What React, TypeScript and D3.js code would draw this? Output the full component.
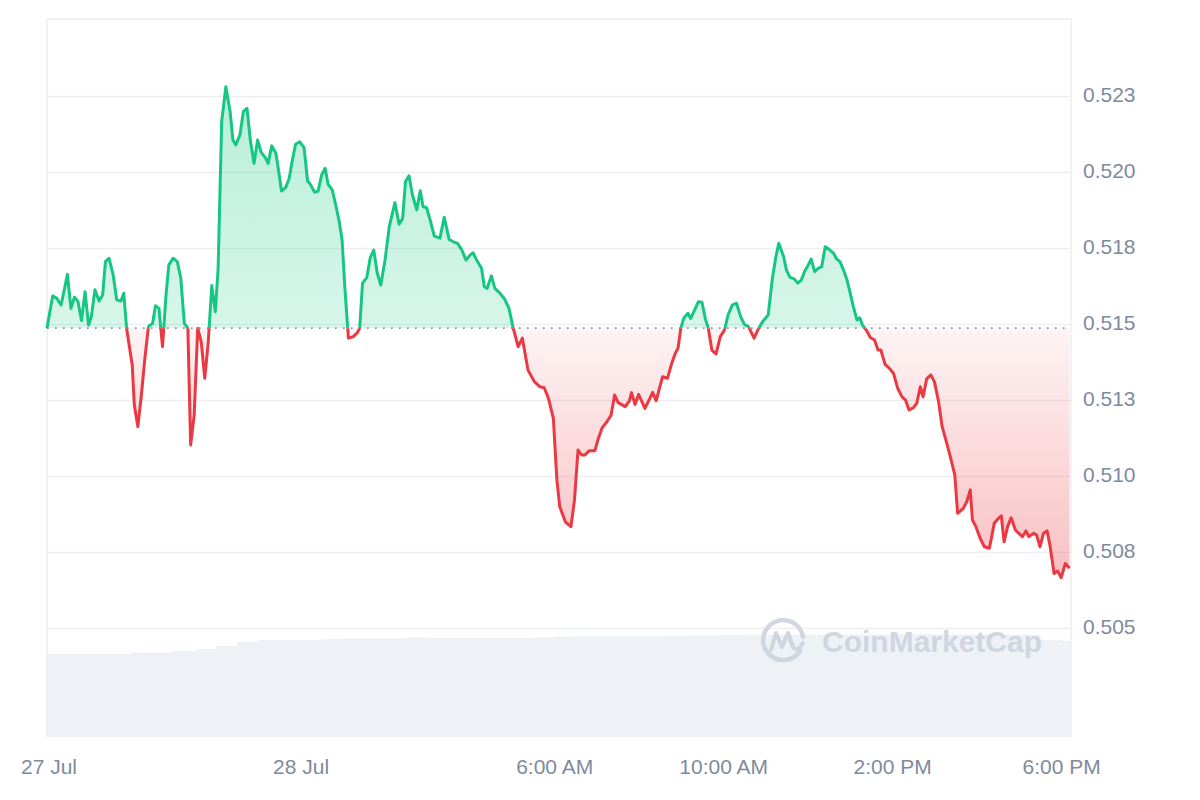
import * as d3 from "d3";

// minutes after the window opens (27 Jul 18:02) for each price sample
const minutesFromOpen = [
    0, 8, 14, 20, 25, 29, 34, 39, 44, 49,
    54, 59, 63, 68, 74, 79, 83, 88, 94, 99,
    105, 109, 113, 121, 124, 129, 134, 139, 144, 150,
    154, 159, 164, 169, 173, 179, 185, 190, 195, 200,
    204, 209, 214, 219, 224, 229, 234, 239, 243, 248,
    254, 260, 264, 268, 274, 279, 284, 289, 294, 299,
    304, 310, 314, 319, 325, 329, 333, 339, 344, 348,
    353, 359, 365, 370, 374, 380, 385, 390, 395, 399,
    405, 410, 415, 419, 423, 428, 435, 441, 444, 448,
    454, 459, 464, 469, 474, 480, 486, 494, 500, 505,
    509, 514, 519, 525, 530, 534, 539, 544, 550, 558,
    564, 571, 577, 583, 589, 595, 601, 605, 610, 617,
    621, 625, 631, 636, 643, 650, 656, 662, 669, 675,
    683, 692, 700, 706, 712, 719, 724, 728, 736, 744,
    749, 754, 759, 764, 770, 778, 783, 788, 795, 801,
    806, 811, 821, 827, 830, 835, 840, 849, 856, 860,
    865, 869, 874, 881, 887, 892, 896, 900, 904, 910,
    914, 920, 925, 930, 935, 939, 944, 950, 956, 962,
    967, 973, 979, 985, 990, 996, 1004, 1010, 1016, 1024,
    1030, 1035, 1039, 1046, 1050, 1055, 1061, 1066, 1071, 1076,
    1081, 1085, 1090, 1095, 1100, 1105, 1110, 1117, 1121, 1126,
    1131, 1136, 1140, 1145, 1150, 1154, 1158, 1164, 1169, 1175,
    1180, 1184, 1190, 1196, 1202, 1208, 1214, 1219, 1224, 1230,
    1235, 1240, 1244, 1249, 1255, 1260, 1266, 1271, 1275, 1282,
    1289, 1293, 1301, 1306, 1311, 1314, 1319, 1325, 1331, 1338,
    1341, 1345, 1350, 1355, 1359, 1364, 1369, 1375, 1380, 1385,
    1390, 1394, 1401, 1405, 1410, 1415, 1420, 1424, 1430, 1435,
    1440, 1446, 1452,
];

const prices = [
    0.51488, 0.51594, 0.51586, 0.51564, 0.51619, 0.51665, 0.51553, 0.5159, 0.51575, 0.51513,
    0.51608, 0.51498, 0.51526, 0.51614, 0.51577, 0.51597, 0.51707, 0.51718, 0.51663, 0.51581,
    0.51577, 0.51603, 0.51488, 0.51367, 0.51235, 0.51164, 0.51268, 0.51389, 0.51493, 0.51504,
    0.51562, 0.51553, 0.51427, 0.51597, 0.51696, 0.51718, 0.51707, 0.51652, 0.51504, 0.51488,
    0.51104, 0.51202, 0.51488, 0.51443, 0.51323, 0.51443, 0.51628, 0.51542, 0.51685, 0.52167,
    0.52282, 0.522, 0.52107, 0.52091, 0.52124, 0.52202, 0.52211, 0.52101, 0.5203, 0.52107,
    0.52067, 0.52049, 0.5203, 0.52088, 0.52063, 0.52003, 0.51939, 0.51951, 0.51981, 0.52036,
    0.52093, 0.52101, 0.52082, 0.51972, 0.51961, 0.51935, 0.51939, 0.51992, 0.52014, 0.51962,
    0.51943, 0.51893, 0.51838, 0.51778, 0.51619, 0.51455, 0.5146, 0.51474, 0.51488, 0.51636,
    0.51654, 0.5172, 0.51745, 0.51668, 0.5163, 0.51712, 0.51822, 0.51901, 0.5183, 0.51849,
    0.5197, 0.51989, 0.51926, 0.51877, 0.5194, 0.51888, 0.51884, 0.51844, 0.51791, 0.51784,
    0.51853, 0.5178, 0.51772, 0.51767, 0.51745, 0.51712, 0.51729, 0.51736, 0.51712, 0.51685,
    0.51624, 0.51619, 0.5166, 0.51619, 0.51603, 0.51583, 0.51553, 0.51488, 0.51427, 0.51455,
    0.5135, 0.51312, 0.51295, 0.51292, 0.51257, 0.51191, 0.50988, 0.50901, 0.50851, 0.50835,
    0.50923, 0.51087, 0.51071, 0.51071, 0.51085, 0.51085, 0.51126, 0.51159, 0.5118, 0.51202,
    0.51268, 0.51243, 0.5123, 0.51249, 0.51276, 0.51237, 0.5127, 0.51224, 0.51257, 0.51277,
    0.51249, 0.51285, 0.51328, 0.51323, 0.51372, 0.51405, 0.51422, 0.51488, 0.5152, 0.51537,
    0.5152, 0.5155, 0.51575, 0.51573, 0.51517, 0.51488, 0.51416, 0.51403, 0.5146, 0.51482,
    0.51531, 0.51564, 0.5157, 0.51526, 0.51501, 0.51493, 0.51455, 0.51485, 0.51509, 0.51531,
    0.51652, 0.51723, 0.51767, 0.51723, 0.51679, 0.51655, 0.5165, 0.51636, 0.51646, 0.51676,
    0.51696, 0.51715, 0.51674, 0.51685, 0.5169, 0.51756, 0.51748, 0.51734, 0.51716, 0.51707,
    0.51679, 0.51646, 0.51608, 0.51559, 0.51515, 0.51522, 0.51498, 0.51479, 0.51457, 0.51449,
    0.51416, 0.51416, 0.51369, 0.51356, 0.51339, 0.5129, 0.51262, 0.51252, 0.51219, 0.51226,
    0.51241, 0.51295, 0.51262, 0.51321, 0.51334, 0.51312, 0.51246, 0.51164, 0.51131, 0.51071,
    0.51005, 0.50879, 0.50895, 0.50917, 0.50956, 0.50857, 0.50835, 0.50797, 0.50769, 0.50764,
    0.50797, 0.50846, 0.5086, 0.50871, 0.50785, 0.50835, 0.50864, 0.50824, 0.50813, 0.50802,
    0.50821, 0.50802, 0.50813, 0.50808, 0.50769, 0.50813, 0.50821, 0.50775, 0.50681, 0.50689,
    0.50667, 0.50714, 0.50698,
];

// 24h volume (millions), one bar per 30 minutes from the open
const volumeMillions = [
    69.2, 69.2, 69.2, 69.2, 70.4, 70.4, 71.5, 73.3, 75.8, 79.2,
    80.8, 80.8, 80.8, 81.7, 82.1, 82.1, 82.1, 82.9, 82.5, 82.5,
    82.5, 82.5, 82.5, 82.9, 83.8, 84.0, 84.2, 84.3, 84.2, 84.4,
    84.6, 84.8, 85.0, 85.2, 85.4, 85.4, 85.5, 85.4, 85.6, 85.5,
    85.6, 85.7, 85.6, 85.5, 85.6, 85.4, 85.3, 81.0, 80.0,
];

const yTickValues = [0.5225, 0.52, 0.5175, 0.515, 0.5125, 0.51, 0.5075, 0.505];
const yTickLabels = ["0.523", "0.520", "0.518", "0.515", "0.513", "0.510", "0.508", "0.505"];

const openTime = new Date(2024, 6, 27, 18, 2);
const closeTime = new Date(2024, 6, 28, 18, 16);
const xTickTimes = [
    openTime,
    new Date(2024, 6, 28, 0, 0),
    new Date(2024, 6, 28, 6, 0),
    new Date(2024, 6, 28, 10, 0),
    new Date(2024, 6, 28, 14, 0),
    new Date(2024, 6, 28, 18, 0),
];
const xTickLabels = ["27 Jul", "28 Jul", "6:00 AM", "10:00 AM", "2:00 PM", "6:00 PM"];

const GREEN = "#16c784";
const RED = "#ea3943";
const FONT = "'Liberation Sans', Arial, sans-serif";

export default function App() {
    const left = 47;
    const right = 1071;
    const top = 19;
    const bottom = 737;

    const x = d3.scaleTime().domain([openTime, closeTime]).range([left, right]);
    const y = d3.scaleLinear().domain([0.505, 0.5225]).range([628.5, 96.5]);
    const yVol = d3.scaleLinear().domain([0, 100]).range([bottom, 617]);

    const points = prices.map((p, i) => ({
        t: new Date(openTime.getTime() + minutesFromOpen[i] * 60000),
        p,
    }));
    const baseY = y(prices[0]);

    const line = d3
        .line<{ t: Date; p: number }>()
        .x((d) => x(d.t))
        .y((d) => y(d.p));
    const area = d3
        .area<{ t: Date; p: number }>()
        .x((d) => x(d.t))
        .y0(baseY)
        .y1((d) => y(d.p));

    const maxY = y(d3.max(prices) as number);
    const minY = y(d3.min(prices) as number);
    const barW = x(new Date(openTime.getTime() + 30 * 60000)) - left;

    return (
        <svg
            width={1200}
            height={800}
            style={{ position: "absolute", left: 0, top: 0, background: "#fff" }}
        >
            <defs>
                <linearGradient id="gUp" gradientUnits="userSpaceOnUse" x1={0} x2={0} y1={maxY} y2={baseY}>
                    <stop offset="0" stopColor={GREEN} stopOpacity={0.3} />
                    <stop offset="1" stopColor={GREEN} stopOpacity={0.17} />
                </linearGradient>
                <linearGradient id="gDown" gradientUnits="userSpaceOnUse" x1={0} x2={0} y1={baseY} y2={minY}>
                    <stop offset="0" stopColor={RED} stopOpacity={0.06} />
                    <stop offset="1" stopColor={RED} stopOpacity={0.32} />
                </linearGradient>
                <clipPath id="above">
                    <rect x={0} y={0} width={1200} height={baseY} />
                </clipPath>
                <clipPath id="below">
                    <rect x={0} y={baseY} width={1200} height={800 - baseY} />
                </clipPath>
            </defs>

            {/* volume */}
            {volumeMillions.map((v, i) => {
                const bx = x(new Date(openTime.getTime() + i * 30 * 60000));
                const w = Math.min(barW + 0.4, right - bx);
                return w > 0 ? (
                    <rect key={i} x={bx} y={yVol(v)} width={w} height={bottom - yVol(v)} fill="#eef1f5" />
                ) : null;
            })}

            {/* grid */}
            {yTickValues.map((v) => (
                <line key={v} x1={left} x2={right} y1={y(v)} y2={y(v)} stroke="#eceef1" strokeWidth={1.5} />
            ))}
            <line x1={left} x2={right} y1={top} y2={top} stroke="#eceef1" strokeWidth={1.5} />
            <line x1={left} x2={left} y1={top} y2={bottom} stroke="#eceef1" strokeWidth={1.5} />
            <line x1={right} x2={right} y1={top} y2={bottom} stroke="#eceef1" strokeWidth={1.5} />

            {/* watermark */}
            <g transform="translate(760,617)" opacity={0.9}>
                <path
                    d="M 40 34 A 20 20 0 1 1 43 20"
                    fill="none"
                    stroke="#cdd4de"
                    strokeWidth={4.5}
                    strokeLinecap="round"
                />
                <path
                    d="M 11 33 L 16 16 L 22 30 L 28 16 L 33 30 Q 37 36 43 26"
                    fill="none"
                    stroke="#cdd4de"
                    strokeWidth={4}
                    strokeLinecap="round"
                    strokeLinejoin="round"
                />
                <text x={62} y={35} fontFamily={FONT} fontWeight={700} fontSize={30} fill="#cdd4de">
                    CoinMarketCap
                </text>
            </g>

            {/* price fills */}
            <path d={area(points) ?? ""} fill="url(#gUp)" clipPath="url(#above)" />
            <path d={area(points) ?? ""} fill="url(#gDown)" clipPath="url(#below)" />

            {/* baseline */}
            <line
                x1={left}
                x2={right}
                y1={baseY}
                y2={baseY}
                stroke="#8a93a3"
                strokeWidth={1.6}
                strokeDasharray="1.6,6.4"
            />

            {/* price line */}
            <path
                d={line(points) ?? ""}
                fill="none"
                stroke={GREEN}
                strokeWidth={3}
                strokeLinejoin="round"
                clipPath="url(#above)"
            />
            <path
                d={line(points) ?? ""}
                fill="none"
                stroke={RED}
                strokeWidth={3}
                strokeLinejoin="round"
                clipPath="url(#below)"
            />

            {/* y axis labels */}
            {yTickValues.map((v, i) => (
                <text
                    key={v}
                    x={1083}
                    y={y(v)}
                    dominantBaseline="middle"
                    fontFamily={FONT}
                    fontSize={21}
                    fill="#808a9d"
                >
                    {yTickLabels[i]}
                </text>
            ))}

            {/* x axis labels */}
            {xTickTimes.map((t, i) => (
                <text
                    key={i}
                    x={x(t) + 2}
                    y={768}
                    textAnchor="middle"
                    dominantBaseline="middle"
                    fontFamily={FONT}
                    fontSize={21}
                    fill="#808a9d"
                >
                    {xTickLabels[i]}
                </text>
            ))}
        </svg>
    );
}
